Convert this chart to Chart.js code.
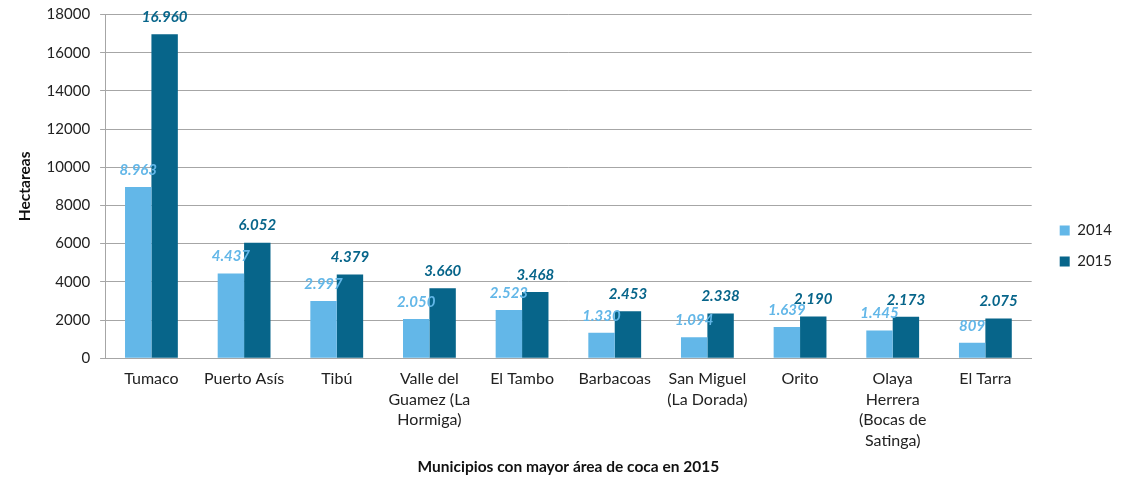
<!DOCTYPE html>
<html>
<head>
<meta charset="utf-8">
<script src="https://cdn.jsdelivr.net/npm/chart.js@4/dist/chart.umd.min.js"></script>
<style>
  body { margin: 0; background: #fff; }
  #wrap { width: 1130px; height: 479px; }
</style>
</head>
<body>
<div id="wrap"><canvas id="cocaChart"></canvas></div>
<script>
const municipios = [
  "Tumaco", "Puerto Asís", "Tibú", ["Valle del", "Guamez (La", "Hormiga)"],
  "El Tambo", "Barbacoas", ["San Miguel", "(La Dorada)"], "Orito",
  ["Olaya", "Herrera", "(Bocas de", "Satinga)"], "El Tarra"
];
const area2014 = [8963, 4437, 2997, 2050, 2523, 1330, 1094, 1639, 1445, 809];
const area2015 = [16960, 6052, 4379, 3660, 3468, 2453, 2338, 2190, 2173, 2075];

const claro = '#63b7e8';
const oscuro = '#07658a';
const fuente = 'Lato, "Open Sans", sans-serif';

// separador de miles con punto
function miles(v) {
  return String(v).replace(/\B(?=(\d{3})+(?!\d))/g, '.');
}

const etiquetas = {
  id: 'etiquetas',
  afterLayout(chart) {
    // separa un poco la leyenda del área del gráfico
    const lg = chart.legend;
    lg.left += 12; lg.right += 12;
    lg.top += 8; lg.bottom += 8;
  },
  afterDatasetsDraw(chart) {
    const ctx = chart.ctx;
    ctx.save();
    ctx.font = 'italic bold 15px ' + fuente;
    ctx.textAlign = 'center';
    ctx.textBaseline = 'middle';
    chart.data.datasets.forEach((ds, i) => {
      ctx.fillStyle = ds.backgroundColor;
      chart.getDatasetMeta(i).data.forEach((bar, j) => {
        ctx.fillText(miles(ds.data[j]), bar.x, bar.y - 17);
      });
    });
    ctx.restore();
  }
};

new Chart(document.getElementById('cocaChart'), {
  type: 'bar',
  data: {
    labels: municipios,
    datasets: [
      { label: '2014', data: area2014, backgroundColor: claro },
      { label: '2015', data: area2015, backgroundColor: oscuro }
    ]
  },
  options: {
    responsive: true,
    maintainAspectRatio: false,
    animation: false,
    datasets: { bar: { categoryPercentage: 0.57, barPercentage: 1 } },
    layout: { padding: { top: 0, right: 20, bottom: 3, left: 16 } },
    plugins: {
      tooltip: { enabled: false },
      legend: {
        position: 'right',
        labels: {
          boxWidth: 10, boxHeight: 10, padding: 16,
          color: '#222',
          font: { family: fuente, size: 15 }
        }
      }
    },
    scales: {
      x: {
        grid: { display: false, drawTicks: false },
        border: { color: '#a6a6a6', width: 1 },
        ticks: {
          color: '#222', padding: 10, maxRotation: 0, autoSkip: false,
          font: { family: fuente, size: 16, lineHeight: 1.3 }
        },
        title: {
          display: true, text: 'Municipios con mayor área de coca en 2015',
          color: '#111', padding: { top: -4, bottom: 0 },
          font: { family: fuente, size: 15.5, weight: 'bold' }
        }
      },
      y: {
        min: 0, max: 18000,
        grid: { color: '#a6a6a6', lineWidth: 1, tickLength: 5 },
        border: { color: '#a6a6a6', width: 1 },
        ticks: {
          stepSize: 2000, color: '#222', padding: 10,
          font: { family: fuente, size: 15, lineHeight: 0.6 },
          callback: v => String(v)
        },
        title: {
          display: true, text: 'Hectareas', color: '#111',
          padding: { top: 0, bottom: 2 },
          font: { family: fuente, size: 15.5, weight: 'bold' }
        }
      }
    }
  },
  plugins: [etiquetas]
});
</script>
</body>
</html>
